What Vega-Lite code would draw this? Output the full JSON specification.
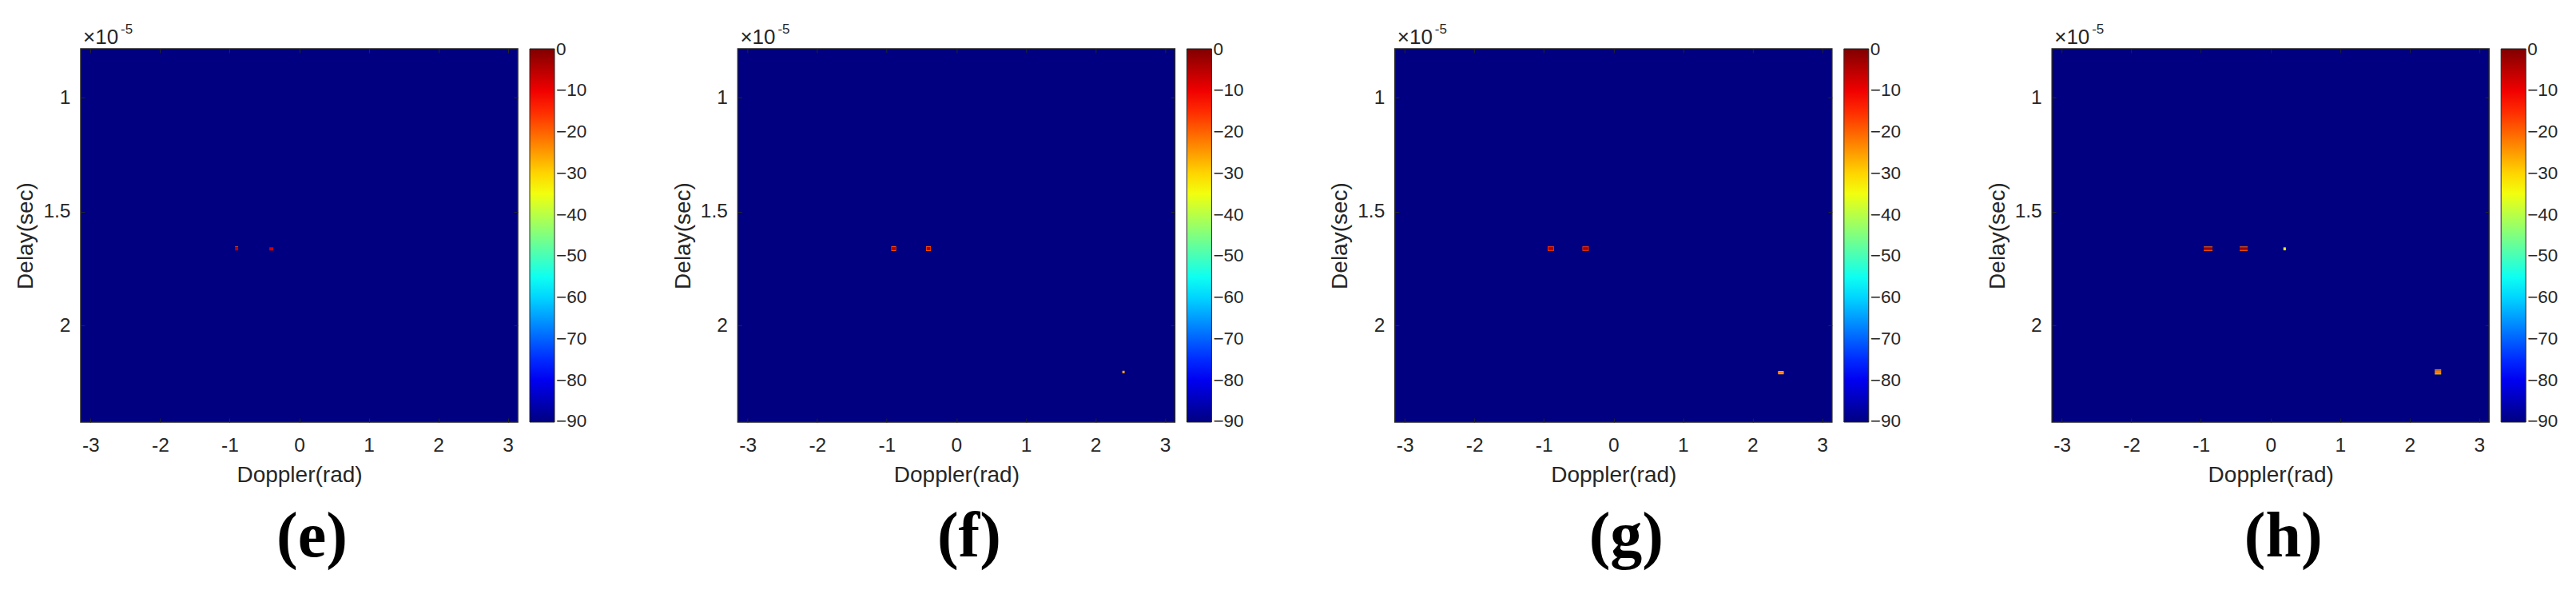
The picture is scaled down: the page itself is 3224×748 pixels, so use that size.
{
  "$schema": "https://vega.github.io/schema/vega-lite/v6.json",
  "background": "white",
  "padding": {"left": 18, "top": 26, "right": 5, "bottom": 5},
  "autosize": {"type": "pad"},
  "datasets": {
    "spots": [
      {"p": "e", "x": -0.922, "x2": -0.878, "y": 1.653, "y2": 1.6566, "v": -20},
      {"p": "e", "x": -0.922, "x2": -0.878, "y": 1.6566, "y2": 1.6707, "v": -5},
      {"p": "e", "x": -0.429, "x2": -0.372, "y": 1.6566, "y2": 1.6707, "v": -7},

      {"p": "f", "x": -0.935, "x2": -0.865, "y": 1.652, "y2": 1.673, "v": -18},
      {"p": "f", "x": -0.927, "x2": -0.873, "y": 1.6555, "y2": 1.6695, "v": -4},
      {"p": "f", "x": -0.435, "x2": -0.365, "y": 1.652, "y2": 1.673, "v": -18},
      {"p": "f", "x": -0.427, "x2": -0.373, "y": 1.6555, "y2": 1.6695, "v": -4},
      {"p": "f", "x": 2.386, "x2": 2.42, "y": 2.199, "y2": 2.21, "v": -26},

      {"p": "g", "x": -0.946, "x2": -0.854, "y": 1.6525, "y2": 1.6725, "v": -16},
      {"p": "g", "x": -0.938, "x2": -0.862, "y": 1.656, "y2": 1.669, "v": -4},
      {"p": "g", "x": -0.446, "x2": -0.354, "y": 1.6525, "y2": 1.6725, "v": -16},
      {"p": "g", "x": -0.438, "x2": -0.362, "y": 1.656, "y2": 1.669, "v": -4},
      {"p": "g", "x": 2.367, "x2": 2.448, "y": 2.2, "y2": 2.2145, "v": -27},
      {"p": "g", "x": 2.367, "x2": 2.448, "y": 2.2035, "y2": 2.211, "v": -22},

      {"p": "h", "x": -0.96, "x2": -0.834, "y": 1.653, "y2": 1.6565, "v": -20},
      {"p": "h", "x": -0.96, "x2": -0.834, "y": 1.6565, "y2": 1.66, "v": -12},
      {"p": "h", "x": -0.96, "x2": -0.834, "y": 1.66, "y2": 1.667, "v": -4},
      {"p": "h", "x": -0.96, "x2": -0.834, "y": 1.667, "y2": 1.6702, "v": -12},
      {"p": "h", "x": -0.96, "x2": -0.834, "y": 1.6702, "y2": 1.6737, "v": -20},
      {"p": "h", "x": -0.443, "x2": -0.328, "y": 1.653, "y2": 1.6565, "v": -20},
      {"p": "h", "x": -0.443, "x2": -0.328, "y": 1.6565, "y2": 1.66, "v": -12},
      {"p": "h", "x": -0.443, "x2": -0.328, "y": 1.66, "y2": 1.667, "v": -4},
      {"p": "h", "x": -0.443, "x2": -0.328, "y": 1.667, "y2": 1.6702, "v": -12},
      {"p": "h", "x": -0.443, "x2": -0.328, "y": 1.6702, "y2": 1.6737, "v": -20},
      {"p": "h", "x": 0.185, "x2": 0.22, "y": 1.657, "y2": 1.67, "v": -34},
      {"p": "h", "x": 2.361, "x2": 2.453, "y": 2.194, "y2": 2.1975, "v": -33},
      {"p": "h", "x": 2.361, "x2": 2.453, "y": 2.1975, "y2": 2.2115, "v": -22},
      {"p": "h", "x": 2.361, "x2": 2.453, "y": 2.2115, "y2": 2.215, "v": -33}
    ]
  },
  "spacing": 275.4,
  "bounds": "flush",
  "resolve": {"scale": {"color": "independent"}, "legend": {"color": "independent"}},
  "hconcat": [
    {
      "width": 547, "height": 467,
      "title": {"text": "(e)"},
      "layer": [
        {
          "data": {"name": "spots"},
          "transform": [{"filter": "datum.p == 'e'"}],
          "mark": {"type": "rect"},
          "encoding": {
            "x": {"field": "x", "type": "quantitative", "scale": {"domain": [-3.14159, 3.14159], "nice": false, "zero": false}, "axis": {"orient": "bottom", "values": [-3, -2, -1, 0, 1, 2, 3], "labelExpr": "datum.value + ''", "labelPadding": 22, "labelFlush": false, "title": "Doppler(rad)", "titlePadding": 12}},
            "x2": {"field": "x2"},
            "y": {"field": "y", "type": "quantitative", "scale": {"domain": [0.7848, 2.4245], "reverse": true, "nice": false, "zero": false}, "axis": {"orient": "left", "values": [1, 1.5, 2], "labelExpr": "datum.value + ''", "labelPadding": 18, "labelFlush": false, "title": "Delay(sec)", "titlePadding": 7}},
            "y2": {"field": "y2"},
            "color": {"field": "v", "type": "quantitative", "scale": {"domain": [-90.15, -78.75, -56.25, -33.75, -11.25, 0.15], "range": ["#000080", "#0000ff", "#00ffff", "#ffff00", "#ff0000", "#800000"], "interpolate": "rgb"}, "legend": {"values": [0, -10, -20, -30, -40, -50, -60, -70, -80, -90]}}
          }
        },
        {
          "data": {"values": [{"t": "×10"}]},
          "mark": {"type": "text", "align": "left", "baseline": "alphabetic", "fontSize": 26, "dx": 3, "dy": -6.4, "color": "#262626"},
          "encoding": {
            "x": {"datum": -3.14159, "type": "quantitative", "scale": {"domain": [-3.14159, 3.14159], "nice": false, "zero": false}, "axis": {"orient": "top", "values": [-3, -2, -1, 0, 1, 2, 3], "labels": false, "title": null}},
            "y": {"datum": 0.7848, "type": "quantitative", "scale": {"domain": [0.7848, 2.4245], "reverse": true, "nice": false, "zero": false}, "axis": {"orient": "right", "values": [1, 1.5, 2], "labels": false, "title": null}},
            "text": {"field": "t"}
          }
        },
        {
          "data": {"values": [{"t": "-5"}]},
          "mark": {"type": "text", "align": "left", "baseline": "alphabetic", "fontSize": 17, "dx": 50, "dy": -19.4, "color": "#262626"},
          "encoding": {
            "x": {"datum": -3.14159, "type": "quantitative", "axis": null},
            "y": {"datum": 0.7848, "type": "quantitative", "axis": null},
            "text": {"field": "t"}
          }
        }
      ],
      "resolve": {"axis": {"x": "independent", "y": "independent"}}
    },
    {
      "width": 547, "height": 467,
      "title": {"text": "(f)"},
      "layer": [
        {
          "data": {"name": "spots"},
          "transform": [{"filter": "datum.p == 'f'"}],
          "mark": {"type": "rect"},
          "encoding": {
            "x": {"field": "x", "type": "quantitative", "scale": {"domain": [-3.14159, 3.14159], "nice": false, "zero": false}, "axis": {"orient": "bottom", "values": [-3, -2, -1, 0, 1, 2, 3], "labelExpr": "datum.value + ''", "labelPadding": 22, "labelFlush": false, "title": "Doppler(rad)", "titlePadding": 12}},
            "x2": {"field": "x2"},
            "y": {"field": "y", "type": "quantitative", "scale": {"domain": [0.7848, 2.4245], "reverse": true, "nice": false, "zero": false}, "axis": {"orient": "left", "values": [1, 1.5, 2], "labelExpr": "datum.value + ''", "labelPadding": 18, "labelFlush": false, "title": "Delay(sec)", "titlePadding": 7}},
            "y2": {"field": "y2"},
            "color": {"field": "v", "type": "quantitative", "scale": {"domain": [-90.15, -78.75, -56.25, -33.75, -11.25, 0.15], "range": ["#000080", "#0000ff", "#00ffff", "#ffff00", "#ff0000", "#800000"], "interpolate": "rgb"}, "legend": {"values": [0, -10, -20, -30, -40, -50, -60, -70, -80, -90]}}
          }
        },
        {
          "data": {"values": [{"t": "×10"}]},
          "mark": {"type": "text", "align": "left", "baseline": "alphabetic", "fontSize": 26, "dx": 3, "dy": -6.4, "color": "#262626"},
          "encoding": {
            "x": {"datum": -3.14159, "type": "quantitative", "scale": {"domain": [-3.14159, 3.14159], "nice": false, "zero": false}, "axis": {"orient": "top", "values": [-3, -2, -1, 0, 1, 2, 3], "labels": false, "title": null}},
            "y": {"datum": 0.7848, "type": "quantitative", "scale": {"domain": [0.7848, 2.4245], "reverse": true, "nice": false, "zero": false}, "axis": {"orient": "right", "values": [1, 1.5, 2], "labels": false, "title": null}},
            "text": {"field": "t"}
          }
        },
        {
          "data": {"values": [{"t": "-5"}]},
          "mark": {"type": "text", "align": "left", "baseline": "alphabetic", "fontSize": 17, "dx": 50, "dy": -19.4, "color": "#262626"},
          "encoding": {
            "x": {"datum": -3.14159, "type": "quantitative", "axis": null},
            "y": {"datum": 0.7848, "type": "quantitative", "axis": null},
            "text": {"field": "t"}
          }
        }
      ],
      "resolve": {"axis": {"x": "independent", "y": "independent"}}
    },
    {
      "width": 547, "height": 467,
      "title": {"text": "(g)"},
      "layer": [
        {
          "data": {"name": "spots"},
          "transform": [{"filter": "datum.p == 'g'"}],
          "mark": {"type": "rect"},
          "encoding": {
            "x": {"field": "x", "type": "quantitative", "scale": {"domain": [-3.14159, 3.14159], "nice": false, "zero": false}, "axis": {"orient": "bottom", "values": [-3, -2, -1, 0, 1, 2, 3], "labelExpr": "datum.value + ''", "labelPadding": 22, "labelFlush": false, "title": "Doppler(rad)", "titlePadding": 12}},
            "x2": {"field": "x2"},
            "y": {"field": "y", "type": "quantitative", "scale": {"domain": [0.7848, 2.4245], "reverse": true, "nice": false, "zero": false}, "axis": {"orient": "left", "values": [1, 1.5, 2], "labelExpr": "datum.value + ''", "labelPadding": 18, "labelFlush": false, "title": "Delay(sec)", "titlePadding": 7}},
            "y2": {"field": "y2"},
            "color": {"field": "v", "type": "quantitative", "scale": {"domain": [-90.15, -78.75, -56.25, -33.75, -11.25, 0.15], "range": ["#000080", "#0000ff", "#00ffff", "#ffff00", "#ff0000", "#800000"], "interpolate": "rgb"}, "legend": {"values": [0, -10, -20, -30, -40, -50, -60, -70, -80, -90]}}
          }
        },
        {
          "data": {"values": [{"t": "×10"}]},
          "mark": {"type": "text", "align": "left", "baseline": "alphabetic", "fontSize": 26, "dx": 3, "dy": -6.4, "color": "#262626"},
          "encoding": {
            "x": {"datum": -3.14159, "type": "quantitative", "scale": {"domain": [-3.14159, 3.14159], "nice": false, "zero": false}, "axis": {"orient": "top", "values": [-3, -2, -1, 0, 1, 2, 3], "labels": false, "title": null}},
            "y": {"datum": 0.7848, "type": "quantitative", "scale": {"domain": [0.7848, 2.4245], "reverse": true, "nice": false, "zero": false}, "axis": {"orient": "right", "values": [1, 1.5, 2], "labels": false, "title": null}},
            "text": {"field": "t"}
          }
        },
        {
          "data": {"values": [{"t": "-5"}]},
          "mark": {"type": "text", "align": "left", "baseline": "alphabetic", "fontSize": 17, "dx": 50, "dy": -19.4, "color": "#262626"},
          "encoding": {
            "x": {"datum": -3.14159, "type": "quantitative", "axis": null},
            "y": {"datum": 0.7848, "type": "quantitative", "axis": null},
            "text": {"field": "t"}
          }
        }
      ],
      "resolve": {"axis": {"x": "independent", "y": "independent"}}
    },
    {
      "width": 547, "height": 467,
      "title": {"text": "(h)"},
      "layer": [
        {
          "data": {"name": "spots"},
          "transform": [{"filter": "datum.p == 'h'"}],
          "mark": {"type": "rect"},
          "encoding": {
            "x": {"field": "x", "type": "quantitative", "scale": {"domain": [-3.14159, 3.14159], "nice": false, "zero": false}, "axis": {"orient": "bottom", "values": [-3, -2, -1, 0, 1, 2, 3], "labelExpr": "datum.value + ''", "labelPadding": 22, "labelFlush": false, "title": "Doppler(rad)", "titlePadding": 12}},
            "x2": {"field": "x2"},
            "y": {"field": "y", "type": "quantitative", "scale": {"domain": [0.7848, 2.4245], "reverse": true, "nice": false, "zero": false}, "axis": {"orient": "left", "values": [1, 1.5, 2], "labelExpr": "datum.value + ''", "labelPadding": 18, "labelFlush": false, "title": "Delay(sec)", "titlePadding": 7}},
            "y2": {"field": "y2"},
            "color": {"field": "v", "type": "quantitative", "scale": {"domain": [-90.15, -78.75, -56.25, -33.75, -11.25, 0.15], "range": ["#000080", "#0000ff", "#00ffff", "#ffff00", "#ff0000", "#800000"], "interpolate": "rgb"}, "legend": {"values": [0, -10, -20, -30, -40, -50, -60, -70, -80, -90]}}
          }
        },
        {
          "data": {"values": [{"t": "×10"}]},
          "mark": {"type": "text", "align": "left", "baseline": "alphabetic", "fontSize": 26, "dx": 3, "dy": -6.4, "color": "#262626"},
          "encoding": {
            "x": {"datum": -3.14159, "type": "quantitative", "scale": {"domain": [-3.14159, 3.14159], "nice": false, "zero": false}, "axis": {"orient": "top", "values": [-3, -2, -1, 0, 1, 2, 3], "labels": false, "title": null}},
            "y": {"datum": 0.7848, "type": "quantitative", "scale": {"domain": [0.7848, 2.4245], "reverse": true, "nice": false, "zero": false}, "axis": {"orient": "right", "values": [1, 1.5, 2], "labels": false, "title": null}},
            "text": {"field": "t"}
          }
        },
        {
          "data": {"values": [{"t": "-5"}]},
          "mark": {"type": "text", "align": "left", "baseline": "alphabetic", "fontSize": 17, "dx": 50, "dy": -19.4, "color": "#262626"},
          "encoding": {
            "x": {"datum": -3.14159, "type": "quantitative", "axis": null},
            "y": {"datum": 0.7848, "type": "quantitative", "axis": null},
            "text": {"field": "t"}
          }
        }
      ],
      "resolve": {"axis": {"x": "independent", "y": "independent"}}
    }
  ],
  "config": {
    "font": "Liberation Sans",
    "view": {"fill": "#000080", "stroke": "#262626", "strokeWidth": 1.5},
    "axis": {"grid": false, "domain": false, "ticks": true, "tickColor": "#262626", "tickSize": -5, "tickWidth": 1, "labelColor": "#262626", "labelFontSize": 24.5, "labelFont": "Liberation Sans", "titleFont": "Liberation Sans", "titleFontSize": 28, "titleFontWeight": "normal", "titleColor": "#262626"},
    "legend": {"type": "gradient", "direction": "vertical", "orient": "right", "offset": 14, "padding": 0, "gradientLength": 467, "gradientThickness": 31, "gradientStrokeColor": "#262626", "gradientStrokeWidth": 1, "labelFontSize": 22.5, "labelFont": "Liberation Sans", "labelColor": "#262626", "labelOffset": 7, "labelExpr": "datum.value + ''", "labelOverlap": false, "title": null},
    "title": {"orient": "bottom", "anchor": "middle", "font": "Liberation Serif", "fontWeight": "bold", "fontSize": 80, "color": "black", "offset": 24, "dx": 16}
  }
}
